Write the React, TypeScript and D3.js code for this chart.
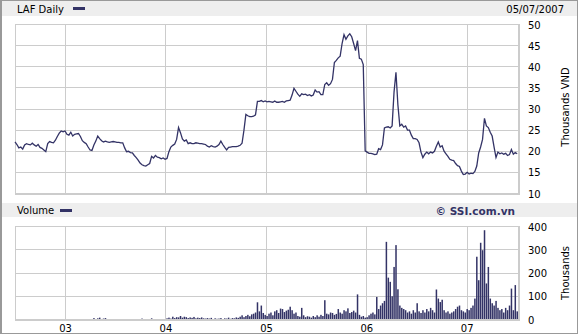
import React from "react";
import * as d3 from "d3";

const seriesStart = "2002-07-01";
const seriesEnd = "2007-07-05";
const headerDate = "05/07/2007";

// weekly closing price (thousands VND), one value per week from seriesStart
const priceWeekly = [
  22.2, 21.6, 20.8, 21.0, 20.5, 21.5, 21.8, 21.6, 21.5, 21.9,
  21.5, 21.2, 21.6, 20.9, 20.7, 20.3, 19.9, 21.8, 22.3, 22.1,
  22.0, 22.6, 23.5, 24.3, 24.8, 24.6, 24.8, 24.0, 23.8, 24.5,
  23.6, 24.0, 24.1, 24.2, 23.5, 22.5, 22.1, 21.8, 21.0, 20.3,
  20.2, 21.5, 22.4, 23.6, 23.0, 22.5, 22.2, 22.4, 22.2, 22.1,
  22.2, 22.3, 22.2, 22.1, 22.1, 22.0, 22.0, 20.8, 19.9, 20.0,
  19.7, 19.6, 19.0, 18.5, 17.9, 17.2, 16.8, 16.6, 16.5, 16.8,
  17.1, 18.8, 18.4, 19.0, 18.6, 18.5, 18.2, 18.4, 18.1, 18.3,
  19.9, 21.0, 21.4, 21.7, 22.8, 25.6, 24.4, 22.9, 22.4, 22.7,
  21.8, 22.0, 21.8, 21.8, 22.0, 21.9, 21.8, 21.8, 21.7, 21.6,
  21.2, 21.0, 21.3, 21.1, 21.0, 21.2, 21.6, 22.4, 21.6, 20.9,
  20.3, 20.9, 21.0, 21.1, 21.1, 21.1, 21.2, 21.4, 21.9, 25.0,
  28.7, 28.4, 28.2, 28.2, 28.3, 28.6, 31.8, 31.8, 32.0, 31.7,
  31.9, 31.7, 31.8, 31.7, 31.6, 31.9, 31.6, 31.6, 31.7, 31.8,
  31.6, 31.9, 32.0, 32.1, 33.3, 34.9, 34.2, 33.5, 33.0, 33.6,
  33.4, 33.5, 33.2, 33.4, 33.1, 33.3, 34.5, 34.0, 34.1, 33.4,
  33.4, 35.8, 36.2, 35.6, 36.0, 37.0, 41.0, 41.5, 42.1, 42.5,
  45.5, 47.6, 46.5, 47.3, 47.8, 47.1, 45.5, 43.8, 46.2, 42.0,
  41.8, 40.5, 20.1, 19.8, 19.5, 19.5, 19.4, 19.2, 19.3, 20.6,
  20.4, 21.5, 25.5, 25.7, 25.8, 25.5, 26.0, 34.0, 38.7, 31.0,
  26.0, 26.4, 25.7, 26.0, 25.0, 25.0, 23.8, 23.0, 23.0, 22.8,
  22.0, 19.8, 18.5, 19.3, 19.8, 19.4, 19.8, 19.6, 20.0, 21.2,
  22.2, 21.0, 21.3, 20.0, 19.4, 18.8, 18.1, 17.9, 17.8, 17.1,
  16.6, 16.4, 15.3, 14.5, 14.6, 15.0, 14.6, 14.8, 14.7, 15.2,
  16.5, 19.6, 21.0, 22.8, 27.8, 26.0, 25.6, 24.5, 23.6, 21.0,
  18.5, 19.8, 19.4, 19.6, 19.3, 19.5, 19.0, 19.2, 20.4, 19.3,
  19.7, 19.4,
];

// weekly volume (thousands), one value per week from seriesStart
const volumeWeekly = [
  0, 0, 0, 0, 0, 0, 0, 0, 0, 0,
  0, 0, 0, 0, 0, 0, 0, 0, 0, 0,
  0, 0, 0, 0, 0, 0, 0, 0, 0, 0,
  0, 0, 0, 0, 0, 0, 0, 0, 0, 0,
  0, 6, 0, 5, 8, 0, 4, 6, 0, 0,
  0, 0, 0, 0, 0, 0, 0, 0, 0, 0,
  0, 0, 0, 0, 0, 0, 4, 0, 0, 0,
  0, 5, 0, 0, 0, 0, 0, 0, 0, 5,
  8, 4, 12, 6, 10, 9, 15, 8, 12, 10,
  6, 9, 7, 11, 5, 8, 6, 9, 5, 4,
  6, 4, 7, 0, 5, 3, 4, 6, 0, 5,
  4, 8, 3, 6, 5, 9, 7, 12, 18, 10,
  15, 20, 14, 22, 25, 30, 74, 35, 60, 28,
  20, 15, 25, 30, 18, 35, 40, 28, 47, 45,
  32, 38, 42, 55, 40, 25, 30, 15, 12, 50,
  18, 10, 14, 12, 8, 15, 10, 18, 12, 20,
  15, 83, 25, 22, 30, 28, 20, 24, 45, 30,
  25, 40, 35, 48, 28, 32, 38, 30, 108, 20,
  12, 15, 8, 10, 18, 25, 30, 22, 97, 45,
  60, 70, 80, 334, 180, 162, 100, 226, 320, 130,
  60, 50, 45, 40, 30, 35, 25, 40, 30, 70,
  35, 28, 40, 30, 45, 35, 50, 40, 30, 129,
  90, 75, 85, 40, 30, 35, 25, 30, 35, 45,
  55, 60, 40, 35, 30, 45, 40, 50, 60, 90,
  270, 169, 330, 298, 384, 155, 226, 90, 70, 60,
  80, 50, 40, 45, 30, 50, 40, 60, 133, 40,
  148, 35,
];

const yearLabels = ["03", "04", "05", "06", "07"];
const priceTicks = [10, 15, 20, 25, 30, 35, 40, 45, 50];
const volumeTicks = [0, 100, 200, 300, 400];

const NAVY = "#333366";
const GRID = "#cccccc";
const FONT = "'DejaVu Sans', Verdana, sans-serif";

export default function App() {
  const start = d3.timeParse("%Y-%m-%d")(seriesStart) as Date;
  const end = d3.timeParse("%Y-%m-%d")(seriesEnd) as Date;
  const L = 15, R = 518;
  const x = d3.scaleTime().domain([start, end]).range([L, R]);
  const yP = d3.scaleLinear().domain([10, 50]).range([193.5, 24.5]);
  const yV = d3.scaleLinear().domain([0, 400]).range([319.5, 226.5]);

  const priceData = priceWeekly.map((v, i) => ({ d: d3.timeWeek.offset(start, i), v }));
  const volData = volumeWeekly.map((v, i) => ({ d: d3.timeWeek.offset(start, i), v }));
  const years = d3.timeYear.range(new Date(2003, 0, 1), new Date(2007, 1, 1));

  const line = d3
    .line<{ d: Date; v: number }>()
    .x((p) => x(p.d))
    .y((p) => yP(p.v));

  const crisp = (v: number) => Math.floor(v) + 0.5;
  const pTop = Math.floor(yP(50)), pBot = Math.floor(yP(10));
  const vTop = Math.floor(yV(400)), vBot = Math.floor(yV(0));

  return (
    <svg
      width={579}
      height={335}
      style={{ position: "absolute", left: 0, top: 0, fontFamily: FONT }}
    >
      <rect x={0} y={0} width={579} height={335} fill="#fff" />
      {/* outer frame */}
      <rect x={0.5} y={0.5} width={577} height={333} fill="none" stroke="#999" />
      <line x1={1.5} y1={0} x2={1.5} y2={334} stroke="#999" />

      {/* header bars */}
      <rect x={2} y={1} width={575} height={15} fill="#eeeeee" />
      <text x={17} y={12.5} fontSize={10} fill="#000">LAF Daily</text>
      <rect x={73} y={7} width={12} height={3} fill={NAVY} />
      <text x={564} y={12.5} fontSize={10} textAnchor="end" fill="#000">{headerDate}</text>

      <rect x={2} y={203} width={575} height={14} fill="#eeeeee" />
      <text x={17} y={214} fontSize={10} fill="#000">Volume</text>
      <rect x={60} y={209} width={12} height={3} fill={NAVY} />
      <text x={515} y={214.5} fontSize={10.5} fontWeight="bold" textAnchor="end" fill={NAVY}>
        © SSI.com.vn
      </text>

      {/* price panel */}
      <rect x={L} y={pTop} width={R - L} height={pBot - pTop} fill="#fff" />
      {priceTicks.slice(1, -1).map((t) => (
        <line key={t} x1={L} x2={R} y1={crisp(yP(t))} y2={crisp(yP(t))} stroke={GRID} />
      ))}
      {years.map((d, i) => (
        <line key={i} x1={crisp(x(d))} x2={crisp(x(d))} y1={pTop} y2={pBot} stroke={GRID} />
      ))}
      <line x1={L + 0.5} x2={L + 0.5} y1={pTop} y2={pBot} stroke={GRID} />
      <line x1={L} x2={R} y1={pTop + 0.5} y2={pTop + 0.5} stroke={GRID} />
      <rect x={L} y={pBot} width={R - L + 2} height={2} fill={GRID} />
      <rect x={R} y={pTop} width={2} height={pBot - pTop} fill={GRID} />
      <path d={line(priceData) || ""} fill="none" stroke={NAVY} strokeWidth={1.3} strokeLinejoin="miter" />

      {priceTicks.map((t) => (
        <text key={t} x={528} y={yP(t) + 4} fontSize={10} fill="#000">{t}</text>
      ))}
      <text
        transform={`translate(569,107) rotate(-90)`}
        fontSize={10}
        textAnchor="middle"
        fill="#000"
      >
        Thousands VND
      </text>

      {/* volume panel */}
      {volumeTicks.slice(1, -1).map((t) => (
        <line key={t} x1={L} x2={R} y1={crisp(yV(t))} y2={crisp(yV(t))} stroke={GRID} />
      ))}
      {years.map((d, i) => (
        <line key={i} x1={crisp(x(d))} x2={crisp(x(d))} y1={vTop} y2={vBot} stroke={GRID} />
      ))}
      <line x1={L + 0.5} x2={L + 0.5} y1={vTop} y2={vBot} stroke={GRID} />
      <line x1={L} x2={R} y1={vTop + 0.5} y2={vTop + 0.5} stroke={GRID} />
      {volData
        .filter((p) => p.v > 0)
        .map((p, i) => (
          <rect
            key={i}
            x={x(p.d) - 0.7}
            width={1.5}
            y={yV(p.v)}
            height={Math.max(0, yV(0) - yV(p.v))}
            fill={NAVY}
          />
        ))}
      <rect x={L} y={vBot} width={R - L + 2} height={2} fill={GRID} />
      <rect x={R} y={vTop} width={2} height={vBot - vTop} fill={GRID} />

      {volumeTicks.map((t) => (
        <text key={t} x={528} y={yV(t) + 4} fontSize={10} fill="#000">{t}</text>
      ))}
      <text
        transform={`translate(569,273) rotate(-90)`}
        fontSize={10}
        textAnchor="middle"
        fill="#000"
      >
        Thousands
      </text>

      {years.map((d, i) => (
        <text key={i} x={x(d)} y={332} fontSize={10} textAnchor="middle" fill="#000">
          {yearLabels[i]}
        </text>
      ))}
    </svg>
  );
}
